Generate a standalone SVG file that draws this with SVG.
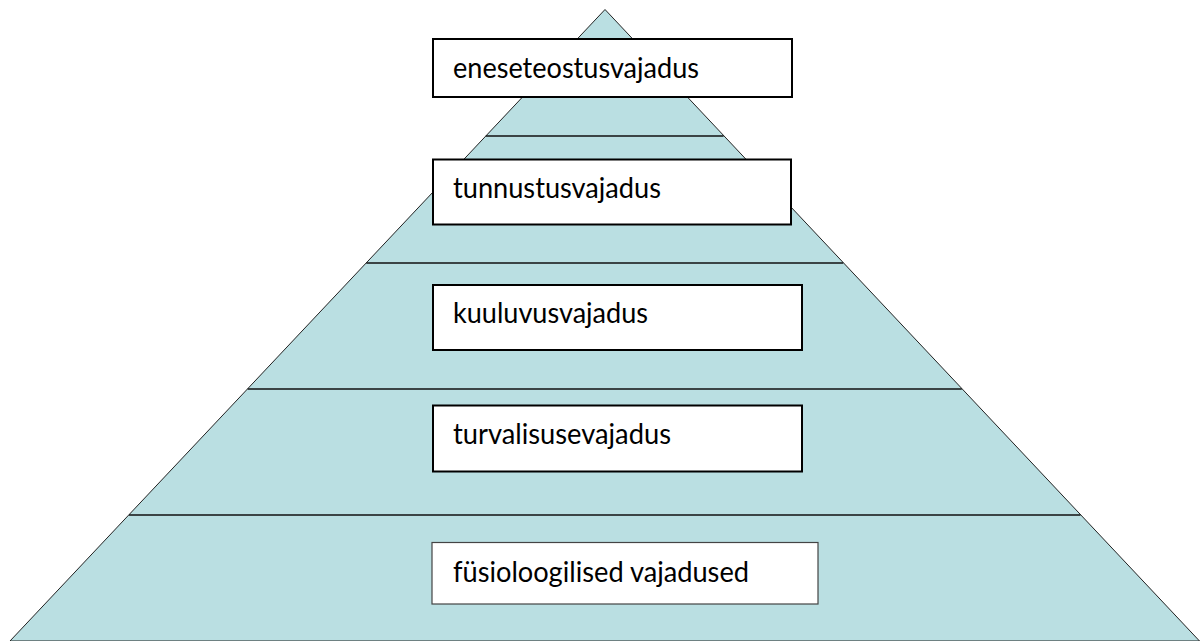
<svg xmlns="http://www.w3.org/2000/svg" width="1200" height="641" viewBox="0 0 1200 641">
  <style>
    .pyr { fill: #BADFE2; stroke: #222; stroke-width: 1; }
    .sep { stroke: #111; stroke-width: 1.4; fill: none; }
    .box { fill: #fff; stroke: #000; stroke-width: 2; }
    .box2 { fill: #fff; stroke: #444; stroke-width: 1.2; }
    .lbl { font-family: Lato, "Open Sans", "Liberation Sans", sans-serif; font-size: 28px; fill: #000; }
  </style>
  <rect width="1200" height="641" fill="#fff"/>
  <g id="pyramid">
    <polygon class="pyr" points="605,9.5 1199.5,641 10,641"/>
  </g>
  <g id="connectors">
    <line class="sep" x1="485.8" y1="136" x2="723.6" y2="136"/>
    <line class="sep" x1="366.3" y1="263" x2="843.2" y2="263"/>
    <line class="sep" x1="247.7" y1="389" x2="961.8" y2="389"/>
    <line class="sep" x1="129" y1="515" x2="1080.5" y2="515"/>
  </g>
  <g id="node-eneseteostus">
    <rect class="box" x="433" y="39" width="359" height="58"/>
    <text class="lbl" x="453" y="78" textLength="246" lengthAdjust="spacingAndGlyphs">eneseteostusvajadus</text>
  </g>
  <g id="node-tunnustus">
    <rect class="box" x="433" y="159.5" width="358" height="65"/>
    <text class="lbl" x="453" y="197.5" textLength="208" lengthAdjust="spacingAndGlyphs">tunnustusvajadus</text>
  </g>
  <g id="node-kuuluvus">
    <rect class="box" x="433" y="285" width="369" height="65"/>
    <text class="lbl" x="453" y="323" textLength="195" lengthAdjust="spacingAndGlyphs">kuuluvusvajadus</text>
  </g>
  <g id="node-turvalisuse">
    <rect class="box" x="433" y="405.5" width="369" height="66"/>
    <text class="lbl" x="453" y="444" textLength="218" lengthAdjust="spacingAndGlyphs">turvalisusevajadus</text>
  </g>
  <g id="node-fysioloogilised">
    <rect class="box2" x="432" y="542.5" width="386" height="61.5"/>
    <text class="lbl" x="453" y="581.5" textLength="296" lengthAdjust="spacingAndGlyphs">füsioloogilised vajadused</text>
  </g>
</svg>
